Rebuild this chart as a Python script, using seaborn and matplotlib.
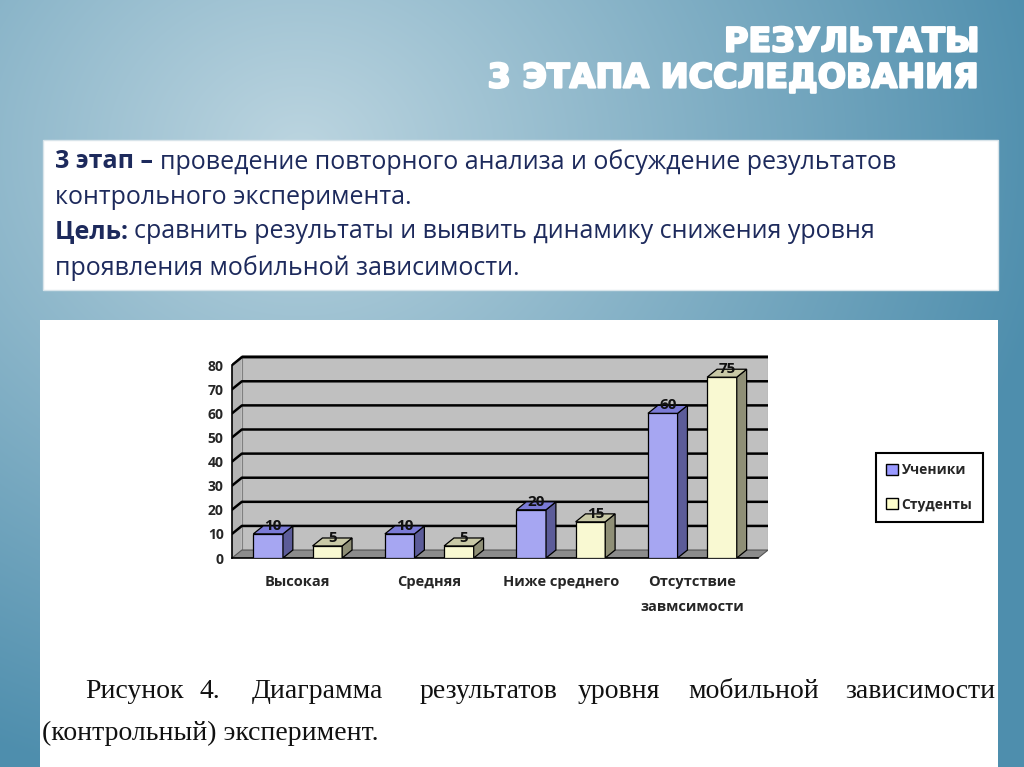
import numpy as np
import pandas as pd
import matplotlib
matplotlib.use('Agg')
import matplotlib.pyplot as plt
import matplotlib.patheffects as pe
from matplotlib.patches import Polygon, Rectangle, Patch
import seaborn as sns

# Data
levels = ['Высокая', 'Средняя', 'Ниже среднего', 'Отсутствие\nзавмсимости']
groups = ['Ученики', 'Студенты']
pupils = [10, 10, 20, 60]
students = [5, 5, 15, 75]
yticks = [0, 10, 20, 30, 40, 50, 60, 70, 80]

front_colors = ['#9999ff', '#ffffcc']
side_colors = ['#5c5c99', '#8f8f76']
top_colors = ['#7b7bd6', '#c9c9a6']

title_lines = ['РЕЗУЛЬТАТЫ', '3 ЭТАПА ИССЛЕДОВАНИЯ']
caption_words = ['Рисунок', '4.', 'Диаграмма', 'результатов', 'уровня', 'мобильной', 'зависимости']
caption_x = [85, 200, 252, 420, 578, 688, 845]

sns.set_style('white')
plt.rcParams['font.family'] = ['Open Sans', 'DejaVu Sans']

W, H = 1024, 767
fig = plt.figure(figsize=(W / 100, H / 100), dpi=100)


def fx(x):
    return x / W


def fy(y):
    return 1 - y / H


# Slide background gradient
bg = fig.add_axes([0, 0, 1, 1], zorder=-5)
yy, xx = np.mgrid[0:H, 0:W]
d = np.sqrt(((xx - 300) / 760) ** 2 + ((yy - 150) / 650) ** 2)
d = np.clip(d, 0, 1)[..., None]
light = np.array([0xbc, 0xd5, 0xe0]) / 255
dark = np.array([0x4e, 0x8e, 0xad]) / 255
bg.imshow(light * (1 - d) + dark * d, aspect='auto', extent=[0, W, H, 0])
bg.set_xlim(0, W)
bg.set_ylim(H, 0)
bg.axis('off')

# white panels
bg.add_patch(Rectangle((43, 140), 955, 150, facecolor='white', edgecolor='#d8e4ea', lw=1))
bg.add_patch(Rectangle((40, 320), 958, 460, facecolor='white', edgecolor='none'))

# Title
for i, line in enumerate(title_lines):
    fig.text(fx(980), fy(42 + 36 * i), line, ha='right', va='center', color='white',
             fontsize=24, fontweight='bold', family=['DejaVu Sans'],
             path_effects=[pe.withStroke(linewidth=1.6, foreground='white')])

# Text box with bold lead-ins
navy = '#1d2a5c'
txt_fs = 18
renderer = fig.canvas.get_renderer()


def mixed_line(y, bold, rest):
    x = fx(55)
    if bold:
        t = fig.text(x, fy(y), bold, ha='left', va='center', color=navy,
                     fontsize=txt_fs, fontweight='bold')
        bb = t.get_window_extent(renderer=renderer)
        x = bb.x1 / W
    fig.text(x, fy(y), rest, ha='left', va='center', color=navy, fontsize=txt_fs)


mixed_line(162, '3 этап – ', 'проведение повторного анализа и обсуждение результатов')
mixed_line(198, '', 'контрольного эксперимента.')
mixed_line(232, 'Цель: ', 'сравнить результаты и выявить динамику снижения уровня')
mixed_line(268, '', 'проявления мобильной зависимости.')

# Chart
ax = fig.add_axes([fx(232), fy(558), (768 - 232) / W, (558 - 355) / H])
ax.patch.set_alpha(0)
dx, dy = 0.075, 3.3
xlo, xhi = -0.5, 3.5 + dx
ytop = 84.2

# walls and floor
ax.add_patch(Polygon([(xlo + dx, dy), (xhi, dy), (xhi, ytop), (xlo + dx, ytop)],
                     closed=True, facecolor='#c0c0c0', edgecolor='#808080', lw=0.8, zorder=0))
ax.add_patch(Polygon([(xlo, 0), (xlo + dx, dy), (xlo + dx, ytop), (xlo, 80)],
                     closed=True, facecolor='#b4b4b4', edgecolor='none', zorder=0))
ax.add_patch(Polygon([(xlo, 0), (xhi - dx, 0), (xhi, dy), (xlo + dx, dy)],
                     closed=True, facecolor='#8c8c8c', edgecolor='#555555', lw=0.8, zorder=0))
for v in yticks[1:]:
    ax.plot([xlo, xlo + dx, xhi], [v, v + dy, v + dy], color='black', lw=1.8, zorder=1)

df = pd.DataFrame({
    'Уровень': levels * 2,
    'Группа': [groups[0]] * len(levels) + [groups[1]] * len(levels),
    'Значение': pupils + students,
})
sns.barplot(data=df, x='Уровень', y='Значение', hue='Группа', hue_order=groups,
            palette=front_colors, width=0.9, gap=0.5, edgecolor='black', linewidth=0.9,
            legend=False, ax=ax, zorder=3)

bars = [p for p in ax.patches if isinstance(p, Rectangle)]
nl = len(levels)
for i, p in enumerate(bars):
    g = i // nl
    x0, w, h = p.get_x(), p.get_width(), p.get_height()
    ax.add_patch(Polygon([(x0 + w, 0), (x0 + w + dx, dy), (x0 + w + dx, h + dy), (x0 + w, h)],
                         closed=True, facecolor=side_colors[g], edgecolor='black', lw=0.9, zorder=3))
    ax.add_patch(Polygon([(x0, h), (x0 + dx, h + dy), (x0 + w + dx, h + dy), (x0 + w, h)],
                         closed=True, facecolor=top_colors[g], edgecolor='black', lw=0.9, zorder=3))
    ax.text(x0 + w / 2 + dx / 2, h + dy * 0.15, f'{h:.0f}', ha='center', va='bottom',
            fontsize=11, fontweight='bold', color='#111111', zorder=4)

ax.set_xlim(xlo, xhi)
ax.set_ylim(0, ytop)

for s in ['top', 'right']:
    ax.spines[s].set_visible(False)
ax.spines['left'].set_bounds(0, 80)
ax.spines['bottom'].set_bounds(xlo, xhi - dx)
for s in ['left', 'bottom']:
    ax.spines[s].set_color('black')
    ax.spines[s].set_linewidth(1.2)
ax.set_yticks(yticks)
ax.tick_params(axis='y', direction='out', length=4, width=1, pad=2, labelsize=10)
ax.set_xticks(range(nl))
ax.set_xticklabels(levels, linespacing=2.0, fontsize=10.5, fontweight='bold', va='top')
ax.set_xticks(np.arange(nl + 1) - 0.5, minor=True)
ax.tick_params(axis='x', which='major', length=0, pad=12)
ax.tick_params(axis='x', which='minor', length=5, width=1, direction='out')
for lab in ax.get_yticklabels():
    lab.set_fontweight('bold')
ax.set_xlabel('')
ax.set_ylabel('')

handles = [Patch(facecolor=c, edgecolor='black', lw=1) for c in front_colors]
leg = fig.legend(handles, groups, loc='upper left', bbox_to_anchor=(fx(876), fy(453)),
                 borderaxespad=0, frameon=True, fancybox=False, edgecolor='black', framealpha=1,
                 handlelength=0.8, handleheight=0.8, handletextpad=0.3, labelspacing=1.45,
                 borderpad=0.75, prop={'size': 10, 'weight': 'bold'})
leg.get_frame().set_linewidth(1.5)

# Caption (justified first line)
serif = ['Liberation Serif', 'DejaVu Serif']
for word, x in zip(caption_words, caption_x):
    fig.text(fx(x), fy(692), word, ha='left', va='center', fontsize=20, family=serif, color='#111111')
fig.text(fx(42), fy(733), '(контрольный) эксперимент.', ha='left', va='center',
         fontsize=20, family=serif, color='#111111')

fig.savefig('out.png', dpi=100)
